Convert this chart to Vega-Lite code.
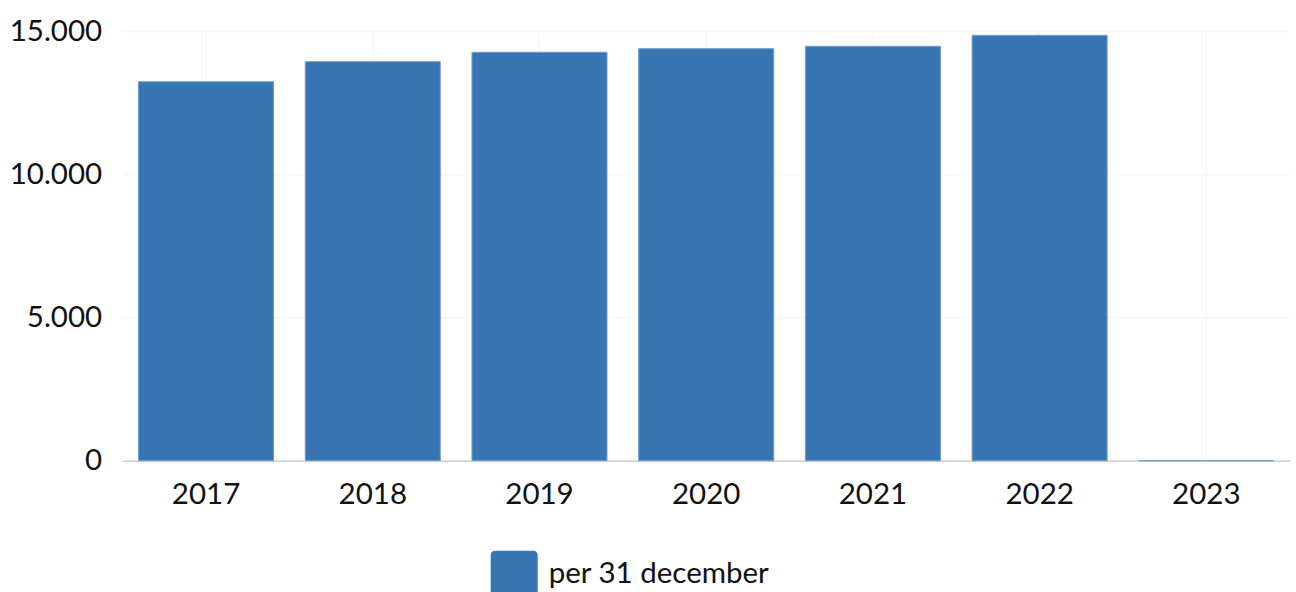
{
  "$schema": "https://vega.github.io/schema/vega-lite/v6.json",
  "width": 1167,
  "height": 429.4,
  "autosize": "none",
  "padding": {"left": 122.7, "top": 31.3, "right": 6.3, "bottom": 131.3},
  "background": "white",
  "data": {
    "values": [
      {"jaar": "2017", "aantal": 13239, "serie": "per 31 december"},
      {"jaar": "2018", "aantal": 13938, "serie": "per 31 december"},
      {"jaar": "2019", "aantal": 14266, "serie": "per 31 december"},
      {"jaar": "2020", "aantal": 14392, "serie": "per 31 december"},
      {"jaar": "2021", "aantal": 14476, "serie": "per 31 december"},
      {"jaar": "2022", "aantal": 14860, "serie": "per 31 december"},
      {"jaar": "2023", "aantal": 0, "serie": "per 31 december"}
    ]
  },
  "mark": {"type": "bar", "stroke": "#6f9dcc", "strokeWidth": 1, "cornerRadius": 0},
  "encoding": {
    "x": {
      "field": "jaar",
      "type": "nominal",
      "title": null,
      "scale": {"paddingInner": 0.19, "paddingOuter": 0.095},
      "axis": {
        "labelAngle": 0,
        "labelFont": "Lato",
        "labelFontSize": 29.5,
        "labelColor": "#111111",
        "labelPadding": 20,
        "ticks": false,
        "domain": true,
        "domainColor": "#d0d0d0",
        "domainWidth": 1.5,
        "grid": true,
        "gridColor": "#f3f4f6",
        "gridWidth": 1
      }
    },
    "y": {
      "field": "aantal",
      "type": "quantitative",
      "title": null,
      "scale": {"domain": [0, 15000], "nice": false},
      "axis": {
        "values": [0, 5000, 10000, 15000],
        "labelExpr": "replace(format(datum.value, ','), ',', '.')",
        "labelFont": "Lato",
        "labelFontSize": 29.5,
        "labelColor": "#111111",
        "labelPadding": 21,
        "ticks": false,
        "domain": false,
        "grid": true,
        "gridColor": "#f3f4f6",
        "gridWidth": 1
      }
    },
    "color": {
      "field": "serie",
      "type": "nominal",
      "scale": {"range": ["#3776b3"]},
      "legend": {
        "title": null,
        "orient": "none",
        "legendX": 368,
        "legendY": 519.4,
        "padding": 0,
        "symbolType": "M-0.8,-1H0.8Q1,-1 1,-0.8V0.8Q1,1 0.8,1H-0.8Q-1,1 -1,0.8V-0.8Q-1,-1 -0.8,-1Z",
        "symbolSize": 2209,
        "symbolStrokeWidth": 0,
        "symbolOpacity": 1,
        "symbolFillColor": "#3776b3",
        "labelFont": "Lato",
        "labelFontSize": 29.5,
        "labelColor": "#111111",
        "labelOffset": 11,
        "labelLimit": 400
      }
    }
  },
  "config": {"view": {"stroke": null}}
}
